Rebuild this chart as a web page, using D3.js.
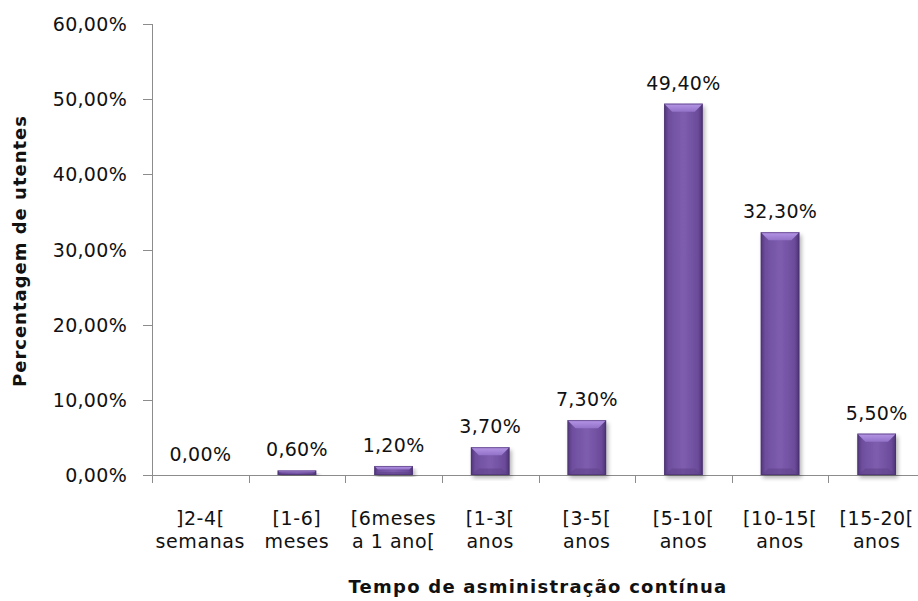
<!DOCTYPE html>
<html>
<head>
<meta charset="utf-8">
<script src="https://cdn.jsdelivr.net/npm/d3@7"></script>
<style>
  html, body { margin: 0; padding: 0; background: #fff; }
  svg { display: block; }
  text { font-family: "DejaVu Sans", Verdana, sans-serif; fill: #111; }
</style>
</head>
<body>
<svg id="chart" width="918" height="601"></svg>
<script>
// Tempo de administração contínua — percentagem de utentes por classe
const categoryLine1 = ["]2-4[", "[1-6]", "[6meses", "[1-3[", "[3-5[", "[5-10[", "[10-15[", "[15-20["];
const categoryLine2 = ["semanas", "meses", "a 1 ano[", "anos", "anos", "anos", "anos", "anos"];
const percentValues = [0.0, 0.6, 1.2, 3.7, 7.3, 49.4, 32.3, 5.5];
const yTickValues = [0, 10, 20, 30, 40, 50, 60];
const yAxisTitle = "Percentagem de utentes";
const xAxisTitle = "Tempo de asministração contínua";

const svg = d3.select("#chart");
const margin = { left: 152, right: 925, top: 24, bottom: 475 };

const ids = categoryLine1.map((d, i) => i);
const x = d3.scaleBand().domain(ids).range([margin.left, margin.right])
  .paddingInner(0.6).paddingOuter(0.3);
const y = d3.scaleLinear().domain([0, 60]).range([margin.bottom, margin.top]);

const fmt = v => d3.format(".2f")(v).replace(".", ",") + "%";

// gradients and shadow
const defs = svg.append("defs");
const body = defs.append("linearGradient").attr("id", "barBody")
  .attr("x1", "0").attr("x2", "1").attr("y1", "0").attr("y2", "0");
body.append("stop").attr("offset", "0").attr("stop-color", "#4f3578");
body.append("stop").attr("offset", "0.12").attr("stop-color", "#6e4e9e");
body.append("stop").attr("offset", "0.5").attr("stop-color", "#7e5daf");
body.append("stop").attr("offset", "0.88").attr("stop-color", "#6b4b9a");
body.append("stop").attr("offset", "1").attr("stop-color", "#4a3170");

const bevel = defs.append("linearGradient").attr("id", "barBevel")
  .attr("x1", "0").attr("x2", "0").attr("y1", "0").attr("y2", "1");
bevel.append("stop").attr("offset", "0").attr("stop-color", "#b596e6");
bevel.append("stop").attr("offset", "1").attr("stop-color", "#9373c8");

const shadow = defs.append("filter").attr("id", "barShadow")
  .attr("x", "-30%").attr("y", "-10%").attr("width", "160%").attr("height", "130%");
shadow.append("feGaussianBlur").attr("in", "SourceAlpha").attr("stdDeviation", 2);
shadow.append("feOffset").attr("dx", 2).attr("dy", 3).attr("result", "b");
shadow.append("feComponentTransfer").append("feFuncA").attr("type", "linear").attr("slope", 0.3);
const merge = shadow.append("feMerge");
merge.append("feMergeNode");
merge.append("feMergeNode").attr("in", "SourceGraphic");

// axes
const axisColor = "#8c8c8c";
svg.append("line").attr("x1", margin.left + 0.5).attr("x2", margin.left + 0.5)
  .attr("y1", y(60)).attr("y2", y(0)).attr("stroke", axisColor).attr("stroke-width", 1);
svg.append("line").attr("x1", margin.left).attr("x2", margin.right)
  .attr("y1", y(0) + 0.5).attr("y2", y(0) + 0.5).attr("stroke", axisColor).attr("stroke-width", 1);

svg.selectAll(".ytick").data(yTickValues).enter().append("line")
  .attr("x1", margin.left - 9).attr("x2", margin.left)
  .attr("y1", d => Math.round(y(d)) + 0.5).attr("y2", d => Math.round(y(d)) + 0.5)
  .attr("stroke", axisColor);

svg.selectAll(".ylab").data(yTickValues).enter().append("text")
  .attr("x", 127).attr("y", d => y(d) + 7)
  .attr("text-anchor", "end").attr("font-size", 19).attr("letter-spacing", 0.3)
  .text(d => fmt(d));

const step = x.step();
const bounds = d3.range(categoryLine1.length + 1).map(i => margin.left + i * step);
svg.selectAll(".xtick").data(bounds).enter().append("line")
  .attr("x1", d => Math.round(d) + 0.5).attr("x2", d => Math.round(d) + 0.5)
  .attr("y1", y(0)).attr("y2", y(0) + 8).attr("stroke", axisColor);

// bars
const bars = svg.selectAll(".bar").data(percentValues).enter().append("g")
  .attr("filter", d => d > 0 ? "url(#barShadow)" : null);

bars.each(function (v, i) {
  if (v <= 0) return;
  const g = d3.select(this);
  const x0 = x(i), w = x.bandwidth();
  const top = y(v), h = y(0) - top;
  g.append("rect").attr("x", x0).attr("y", top).attr("width", w).attr("height", h)
    .attr("fill", "url(#barBody)");
  const bv = Math.min(8, h / 2.5);
  g.append("path")
    .attr("d", `M${x0},${top} L${x0 + w},${top} L${x0 + w - bv},${top + bv} L${x0 + bv},${top + bv} Z`)
    .attr("fill", "url(#barBevel)");
  g.append("path")
    .attr("d", `M${x0},${top + h} L${x0 + w},${top + h} L${x0 + w - bv},${top + h - bv * 0.8} L${x0 + bv},${top + h - bv * 0.8} Z`)
    .attr("fill", "#5e4189").attr("opacity", 0.55);
  g.append("rect").attr("x", x0 + 0.5).attr("y", top + 0.5).attr("width", w - 1).attr("height", Math.max(0, h - 1))
    .attr("fill", "none").attr("stroke", "#4a3170").attr("stroke-opacity", 0.6);
});

// value labels
svg.selectAll(".vlab").data(percentValues).enter().append("text")
  .attr("x", (d, i) => x(i) + x.bandwidth() / 2)
  .attr("y", d => y(d) - 14)
  .attr("text-anchor", "middle").attr("font-size", 19).attr("letter-spacing", 0.3)
  .text(d => fmt(d));

// category labels
const cat = svg.selectAll(".cat").data(ids).enter().append("text")
  .attr("text-anchor", "middle").attr("font-size", 19).attr("letter-spacing", 0.6);
cat.append("tspan").attr("x", i => x(i) + x.bandwidth() / 2).attr("y", 525).text(i => categoryLine1[i]);
cat.append("tspan").attr("x", i => x(i) + x.bandwidth() / 2).attr("y", 548).text(i => categoryLine2[i]);

// axis titles, spread to their printed widths
function fitTitle(sel, target) {
  const natural = sel.node().getComputedTextLength();
  const n = sel.text().length;
  sel.attr("letter-spacing", (target - natural) / n);
}

const yTitle = svg.append("text")
  .attr("transform", "translate(26,251) rotate(-90)")
  .attr("text-anchor", "middle").attr("font-size", 18).attr("font-weight", "bold")
  .text(yAxisTitle);
fitTitle(yTitle, 272);

const xTitle = svg.append("text")
  .attr("x", 538).attr("y", 593)
  .attr("text-anchor", "middle").attr("font-size", 18).attr("font-weight", "bold")
  .text(xAxisTitle);
fitTitle(xTitle, 379);
</script>
</body>
</html>
